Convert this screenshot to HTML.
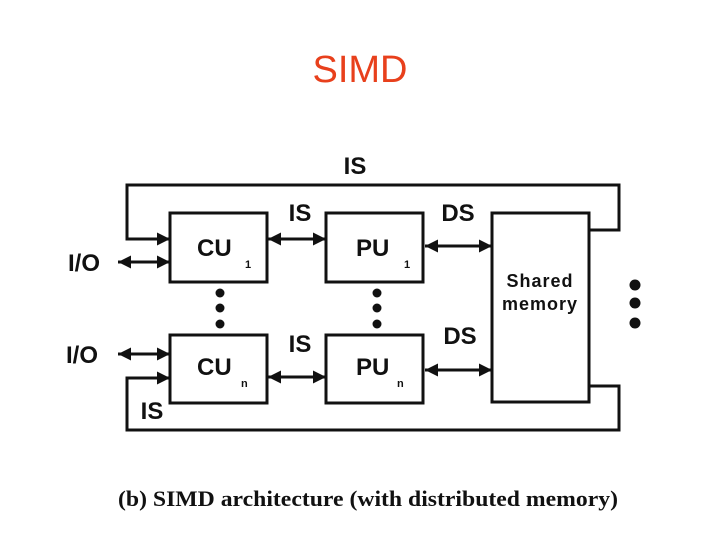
<!DOCTYPE html>
<html><head><meta charset="utf-8"><style>
body{margin:0;background:#fff;width:720px;height:540px;overflow:hidden}
</style></head><body>
<svg width="720" height="540" viewBox="0 0 720 540" xmlns="http://www.w3.org/2000/svg">
<defs>
<marker id="b" viewBox="0 0 10 10" refX="10" refY="5" markerWidth="13" markerHeight="17" orient="auto-start-reverse" markerUnits="userSpaceOnUse">
<path d="M0,0 L10,5 L0,10 z" fill="#111"/></marker>
</defs>
<text x="360" y="82" text-anchor="middle" font-family="Liberation Sans, sans-serif" font-size="38" fill="#e8401c">SIMD</text>
<g fill="none" stroke="#111" stroke-width="3">
<rect x="170" y="213" width="97" height="69"/>
<rect x="326" y="213" width="97" height="69"/>
<rect x="170" y="335" width="97" height="68"/>
<rect x="326" y="335" width="97" height="68"/>
<rect x="492" y="213" width="97" height="189"/>
<polyline points="170,239 127,239 127,185 619,185 619,230 589,230" marker-start="url(#b)"/>
<polyline points="170,378 127,378 127,430 619,430 619,386 589,386" marker-start="url(#b)"/>
<line x1="118" y1="262" x2="170" y2="262" marker-start="url(#b)" marker-end="url(#b)"/>
<line x1="118" y1="354" x2="170" y2="354" marker-start="url(#b)" marker-end="url(#b)"/>
<line x1="268" y1="239" x2="326" y2="239" marker-start="url(#b)" marker-end="url(#b)"/>
<line x1="268" y1="377" x2="326" y2="377" marker-start="url(#b)" marker-end="url(#b)"/>
<line x1="425" y1="246" x2="492" y2="246" marker-start="url(#b)" marker-end="url(#b)"/>
<line x1="425" y1="370" x2="492" y2="370" marker-start="url(#b)" marker-end="url(#b)"/>
</g>
<g fill="#111">
<circle cx="220" cy="293" r="4.5"/><circle cx="220" cy="308" r="4.5"/><circle cx="220" cy="324" r="4.5"/>
<circle cx="377" cy="293" r="4.5"/><circle cx="377" cy="308" r="4.5"/><circle cx="377" cy="324" r="4.5"/>
<circle cx="635" cy="285" r="5.5"/><circle cx="635" cy="303" r="5.5"/><circle cx="635" cy="323" r="5.5"/>
</g>
<g font-family="Liberation Sans, sans-serif" font-weight="bold" fill="#111">
<text x="355" y="174" font-size="24" text-anchor="middle">IS</text>
<text x="300" y="221" font-size="24" text-anchor="middle">IS</text>
<text x="300" y="352" font-size="24" text-anchor="middle">IS</text>
<text x="152" y="419" font-size="24" text-anchor="middle">IS</text>
<text x="458" y="221" font-size="24" text-anchor="middle">DS</text>
<text x="460" y="344" font-size="24" text-anchor="middle">DS</text>
<text x="68" y="271" font-size="24">I/O</text>
<text x="66" y="363" font-size="24">I/O</text>
<text x="197" y="256" font-size="24">CU</text><text x="245" y="268" font-size="11">1</text>
<text x="197" y="375" font-size="24">CU</text><text x="241" y="387" font-size="11">n</text>
<text x="356" y="256" font-size="24">PU</text><text x="404" y="268" font-size="11">1</text>
<text x="356" y="375" font-size="24">PU</text><text x="397" y="387" font-size="11">n</text>
<text x="540" y="287" font-size="18" text-anchor="middle" letter-spacing="1">Shared</text>
<text x="540" y="310" font-size="18" text-anchor="middle" letter-spacing="1">memory</text>
</g>
<text x="118" y="506" textLength="500" lengthAdjust="spacingAndGlyphs" font-family="Liberation Serif, serif" font-weight="bold" font-size="22" fill="#111">(b) SIMD architecture (with distributed memory)</text>
</svg>
</body></html>
